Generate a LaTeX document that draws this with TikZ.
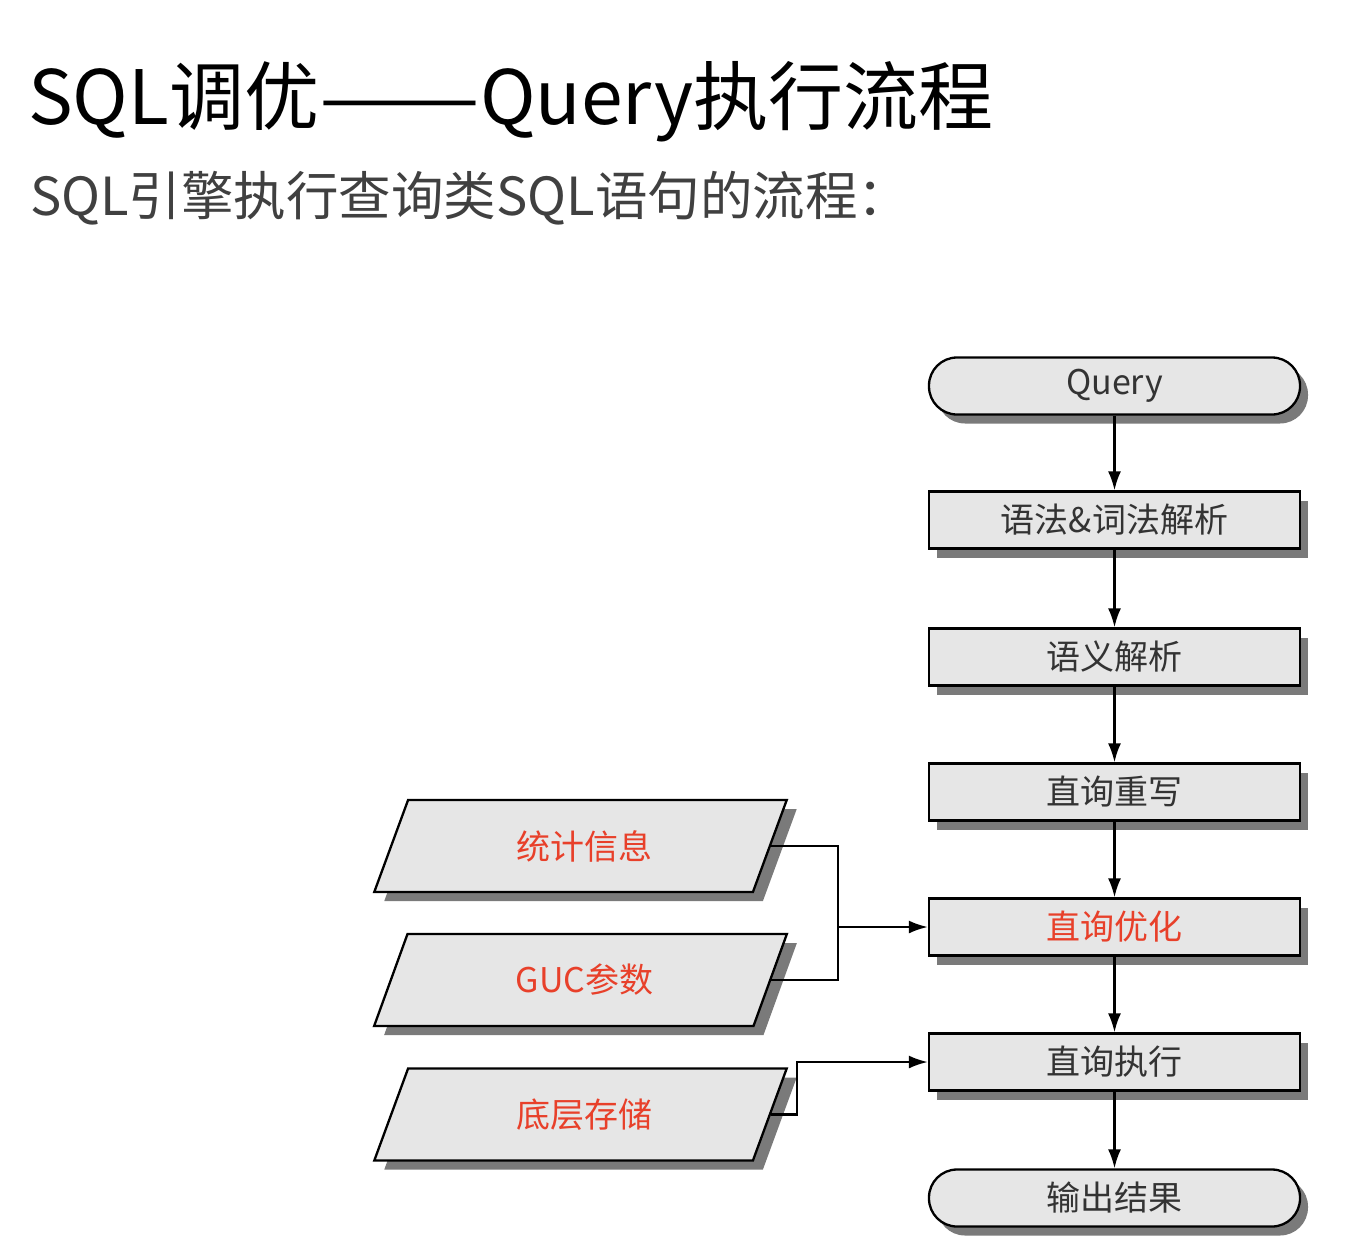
\documentclass[tikz,border=0pt]{standalone}
\usepackage{fontspec}
\setmainfont{Noto Sans CJK SC}
\usetikzlibrary{shapes.geometric,shadows,arrows.meta}
\definecolor{boxfill}{HTML}{E6E6E6}
\definecolor{shadowgray}{HTML}{7A7A7A}
\definecolor{redtext}{HTML}{E8402A}
\definecolor{nodetext}{HTML}{333333}
\definecolor{subgray}{HTML}{404040}
\begin{document}
\begin{tikzpicture}[x=1pt,y=-1pt,
  flowbox/.style={draw=black, line width=2.3pt, fill=boxfill, minimum width=371pt, minimum height=57pt, inner sep=0pt, text=nodetext, font=\fontsize{34}{36}\selectfont, drop shadow={shadow xshift=8pt, shadow yshift=-9pt, fill=shadowgray, opacity=1}},
  stadium/.style={flowbox, rounded corners=28pt},
  databox/.style={trapezium, trapezium left angle=66, trapezium right angle=114, trapezium stretches=true, draw=black, line width=2.3pt, fill=boxfill, minimum width=413pt, minimum height=92pt, inner sep=0pt, text=redtext, font=\fontsize{34}{36}\selectfont, drop shadow={shadow xshift=10pt, shadow yshift=-9pt, fill=shadowgray, opacity=1}},
  conn/.style={draw=black, line width=2.3pt},
  arr/.style={conn, -{Latex[length=19pt,width=13pt]}}
]
\useasboundingbox (0,0) rectangle (1371,1251);
\node[anchor=base west, font=\fontsize{75}{80}\selectfont, text=black, inner sep=0pt] (title) at (28,124) {SQL调优\scalebox{1.28}[1]{——}Query执行流程};
\node[anchor=base west, font=\fontsize{52.5}{56}\selectfont, text=subgray, inner sep=0pt] (subtitle) at (30,215) {SQL引擎执行查询类SQL语句的流程：};

\node[stadium] (query) at (1114.5,386) {Query};
\node[flowbox] (synt) at (1114.5,520) {语法\&词法解析};
\node[flowbox] (sem) at (1114.5,657) {语义解析};
\node[flowbox] (rew) at (1114.5,792) {直询重写};
\node[flowbox, text=redtext] (opt) at (1114.5,927) {直询优化};
\node[flowbox] (exec) at (1114.5,1062) {直询执行};
\node[stadium] (out) at (1114.5,1198) {输出结果};

\node[databox] (stat) at (580.5,846) {\hspace*{8pt}统计信息};
\node[databox] (guc) at (580.5,980) {\hspace*{8pt}GUC参数};
\node[databox] (store) at (580.5,1114.5) {\hspace*{8pt}底层存储};

\draw[arr] (query) -- (synt);
\draw[arr] (synt) -- (sem);
\draw[arr] (sem) -- (rew);
\draw[arr] (rew) -- (opt);
\draw[arr] (opt) -- (exec);
\draw[arr] (exec) -- (out);

\coordinate (j) at (838,927);
\draw[conn] (stat.east) -| (j);
\draw[conn] (guc.east) -| (j);
\draw[arr] (j) -- (opt.west);
\coordinate (k) at (797,1062);
\draw[arr] (store.east) -| (k) -- (exec.west);
\end{tikzpicture}
\end{document}
